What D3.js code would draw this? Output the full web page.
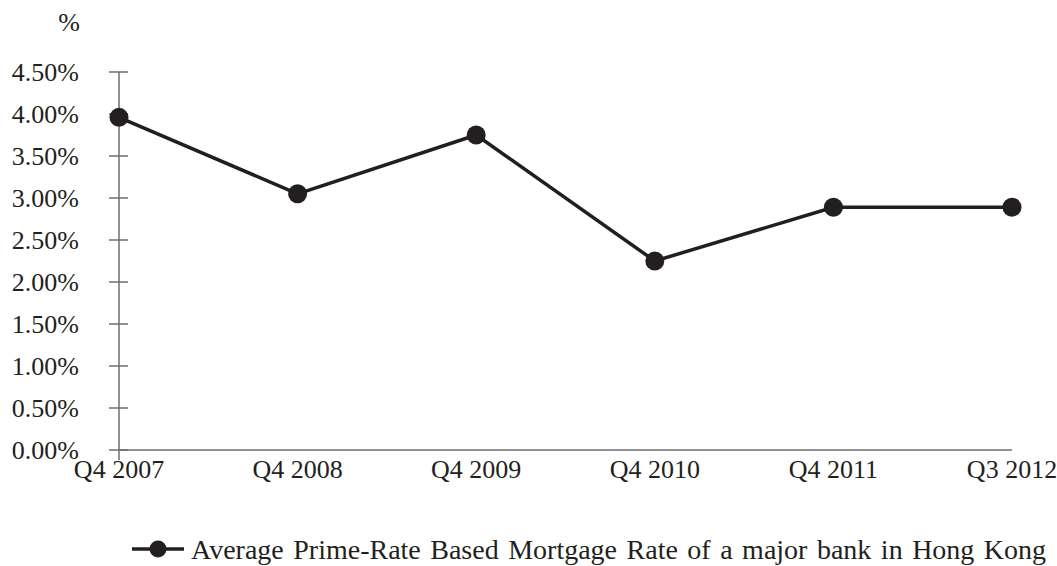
<!DOCTYPE html>
<html>
<head>
<meta charset="utf-8">
<script src="https://cdn.jsdelivr.net/npm/d3@7"></script>
<style>
    body { margin: 0; background: #fff; }
    svg text { font-family: "Liberation Serif", "Times New Roman", serif; fill: #231f20; }
</style>
</head>
<body>
<div id="chart"></div>
<script>
// data
const quarters = ["Q4 2007", "Q4 2008", "Q4 2009", "Q4 2010", "Q4 2011", "Q3 2012"];
const rates = [3.96, 3.05, 3.75, 2.25, 2.89, 2.89];
const yTicks = [0, 0.5, 1, 1.5, 2, 2.5, 3, 3.5, 4, 4.5];
const seriesName = "Average Prime-Rate Based Mortgage Rate of a major bank in Hong Kong";

const width = 1057;
const height = 566;
const fontSize = 26;
const axisColor = "#6d6e70";
const lineColor = "#231f20";

const svg = d3.select("#chart")
    .append("svg")
    .attr("width", width)
    .attr("height", height);

// scales
const x = d3.scalePoint()
    .domain(quarters)
    .range([119, 1012]);

const y = d3.scaleLinear()
    .domain([0, 4.5])
    .range([450, 72]);

// y axis: line plus ticks crossing it
const yAxis = svg.append("g");
yAxis.append("line")
    .attr("x1", 119).attr("x2", 119)
    .attr("y1", y(4.5)).attr("y2", y(0) + 10)
    .attr("stroke", axisColor)
    .attr("stroke-width", 1.5);

yAxis.selectAll(".tick")
    .data(yTicks)
    .enter()
    .append("line")
    .attr("x1", 109).attr("x2", 128)
    .attr("y1", d => y(d)).attr("y2", d => y(d))
    .attr("stroke", axisColor)
    .attr("stroke-width", 1.5);

yAxis.selectAll("text")
    .data(yTicks)
    .enter()
    .append("text")
    .attr("x", 79)
    .attr("y", d => y(d))
    .attr("dy", "0.33em")
    .attr("text-anchor", "end")
    .attr("font-size", fontSize)
    .text(d => d.toFixed(2) + "%");

// unit label
svg.append("text")
    .attr("x", 80)
    .attr("y", 31)
    .attr("text-anchor", "end")
    .attr("font-size", fontSize)
    .text("%");

// x axis
svg.append("line")
    .attr("x1", x(quarters[0])).attr("x2", x(quarters[quarters.length - 1]))
    .attr("y1", y(0)).attr("y2", y(0))
    .attr("stroke", axisColor)
    .attr("stroke-width", 1.5);

svg.selectAll(".xlabel")
    .data(quarters)
    .enter()
    .append("text")
    .attr("class", "xlabel")
    .attr("x", d => x(d))
    .attr("y", 478)
    .attr("text-anchor", "middle")
    .attr("font-size", fontSize)
    .text(d => d);

// series line
const line = d3.line()
    .x((d, i) => x(quarters[i]))
    .y(d => y(d));

svg.append("path")
    .datum(rates)
    .attr("d", line)
    .attr("fill", "none")
    .attr("stroke", lineColor)
    .attr("stroke-width", 3.5)
    .attr("stroke-linejoin", "round");

svg.selectAll(".dot")
    .data(rates)
    .enter()
    .append("circle")
    .attr("class", "dot")
    .attr("cx", (d, i) => x(quarters[i]))
    .attr("cy", d => y(d))
    .attr("r", 9.5)
    .attr("fill", lineColor);

// legend
const legend = svg.append("g");
legend.append("line")
    .attr("x1", 132).attr("x2", 184)
    .attr("y1", 549).attr("y2", 549)
    .attr("stroke", lineColor)
    .attr("stroke-width", 3.5);
legend.append("circle")
    .attr("cx", 158).attr("cy", 549)
    .attr("r", 8.5)
    .attr("fill", lineColor);
legend.append("text")
    .attr("x", 191)
    .attr("y", 559)
    .attr("font-size", 28)
    .attr("word-spacing", 2.5)
    .text(seriesName);
</script>
</body>
</html>
